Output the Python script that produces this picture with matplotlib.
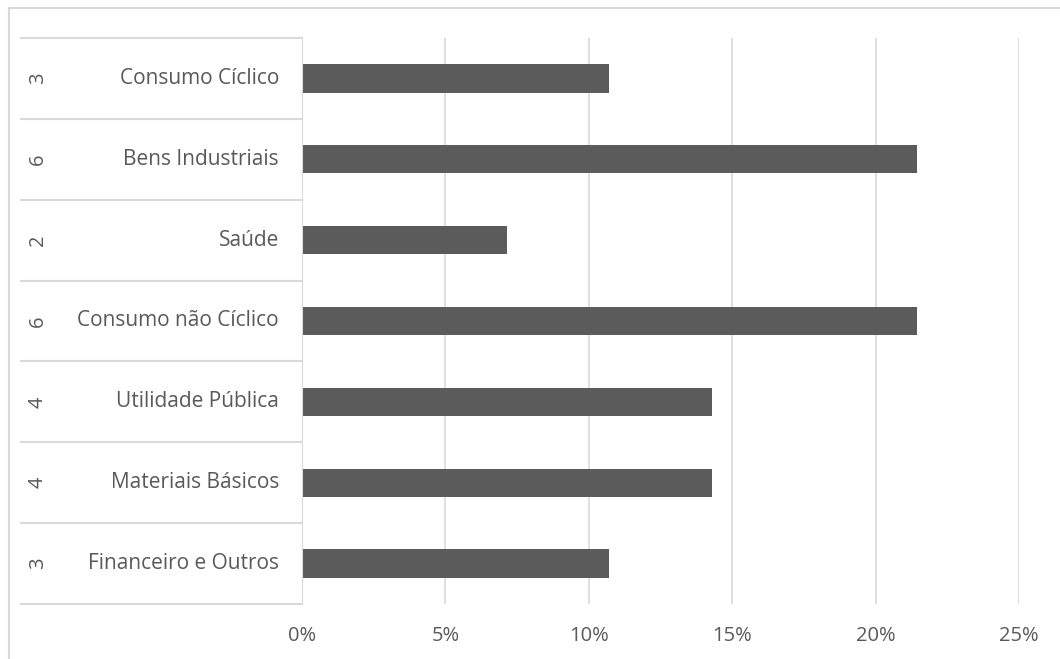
import matplotlib
matplotlib.use("Agg")
import matplotlib.pyplot as plt
from matplotlib.lines import Line2D
import matplotlib.transforms as mtransforms

categories = ["Consumo Cíclico", "Bens Industriais", "Saúde", "Consumo não Cíclico",
              "Utilidade Pública", "Materiais Básicos", "Financeiro e Outros"]
counts = ["3", "6", "2", "6", "4", "4", "3"]
shares = [0.1071, 0.2143, 0.0714, 0.2143, 0.1429, 0.1429, 0.1071]
xticks = [0, 0.05, 0.10, 0.15, 0.20, 0.25]
xticklabels = ["0%", "5%", "10%", "15%", "20%", "25%"]

W, H = 1060, 659
plt.rcParams['font.family'] = ['Open Sans', 'DejaVu Sans']
fig = plt.figure(figsize=(W / 100, H / 100), dpi=100)

grid_c = "#d9d9d9"
text_c = "#595959"
bar_c = "#5b5b5b"

# outer chart border
fig.add_artist(Line2D([9 / W, 9 / W], [0, 1 - 8 / H], color=grid_c, lw=1.5))
fig.add_artist(Line2D([9 / W, 1], [1 - 8 / H, 1 - 8 / H], color=grid_c, lw=1.5))

x0, x1 = 302, 1019
y0, y1 = 38, 604
ax = fig.add_axes([x0 / W, 1 - y1 / H, (x1 - x0) / W, (y1 - y0) / H])

ypos = list(range(len(categories)))
ax.barh(ypos, shares, height=0.35, color=bar_c, zorder=3)
ax.set_ylim(len(categories) - 0.5, -0.5)
ax.set_xlim(0, 0.25)
ax.set_xticks(xticks)
ax.set_xticklabels(xticklabels, color=text_c, fontsize=14.5)
ax.tick_params(axis='x', length=0, pad=16)
ax.set_yticks([])
for s in ax.spines.values():
    s.set_visible(False)
ax.grid(axis='x', color=grid_c, lw=1.2, zorder=0)
ax.axvline(0, color=grid_c, lw=1.5, zorder=4)

trans = mtransforms.blended_transform_factory(ax.transAxes, ax.transData)
left_ax = (21 - x0) / (x1 - x0)
for k in range(len(categories) + 1):
    yb = -0.5 + k
    ax.add_line(Line2D([left_ax, 0], [yb, yb], transform=trans, color=grid_c,
                       lw=1.5, clip_on=False))

lab_x = (279 - x0) / (x1 - x0)
num_x = (38 - x0) / (x1 - x0)
for i, (cat, n) in enumerate(zip(categories, counts)):
    ax.text(lab_x, i, cat, transform=trans, ha='right', va='center',
            color=text_c, fontsize=15)
    ax.text(num_x, i, n, transform=trans, ha='center', va='center',
            color=text_c, fontsize=14.5, rotation=90)

fig.savefig("out.png", dpi=100)
